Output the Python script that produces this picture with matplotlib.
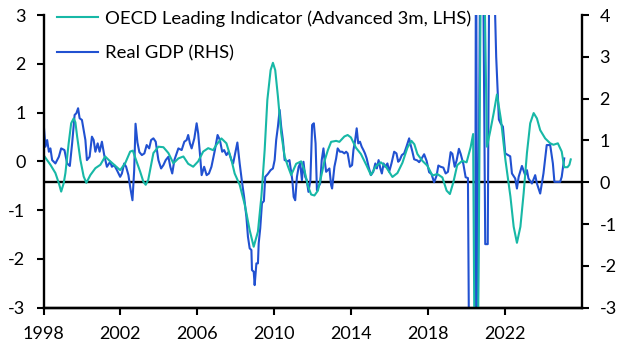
import matplotlib
matplotlib.use("Agg")
import matplotlib.pyplot as plt
from matplotlib.lines import Line2D

plt.rcParams['font.family'] = ['Lato', 'DejaVu Sans']
plt.rcParams['axes.unicode_minus'] = False

# ---- data (decimal years) ----
oecd_t = [1998.00, 1998.20, 1998.36, 1998.62, 1998.80, 1998.92, 1999.05, 1999.14, 1999.31, 1999.44,
          1999.57, 1999.66, 1999.75, 1999.92, 2000.09, 2000.23, 2000.44, 2000.70, 2000.96, 2001.21,
          2001.39, 2001.73, 2001.99, 2002.25, 2002.51, 2002.65, 2002.77, 2003.03, 2003.20, 2003.32,
          2003.45, 2003.55, 2003.72, 2003.98, 2004.24, 2004.50, 2004.76, 2005.02, 2005.28, 2005.53,
          2005.79, 2006.05, 2006.31, 2006.57, 2006.83, 2007.00, 2007.26, 2007.52, 2007.78, 2007.95,
          2008.21, 2008.47, 2008.73, 2008.94, 2009.16, 2009.34, 2009.51, 2009.65, 2009.82, 2009.94,
          2010.06, 2010.20, 2010.37, 2010.55, 2010.72, 2010.89, 2011.15, 2011.41, 2011.59, 2011.76,
          2011.93, 2012.10, 2012.28, 2012.45, 2012.62, 2012.80, 2012.97, 2013.23, 2013.40, 2013.66,
          2013.83, 2014.00, 2014.26, 2014.52, 2014.82, 2015.04, 2015.30, 2015.56, 2015.82, 2016.16,
          2016.42, 2016.68, 2016.94, 2017.15, 2017.30, 2017.46, 2017.72, 2017.98, 2018.24, 2018.50,
          2018.76, 2018.98, 2019.15, 2019.33, 2019.53, 2019.79, 2020.02, 2020.23, 2020.36, 2020.45,
          2020.60, 2020.78, 2020.92, 2021.08, 2021.26, 2021.43, 2021.60, 2021.81, 2022.04, 2022.30,
          2022.47, 2022.64, 2022.82, 2022.99, 2023.16, 2023.33, 2023.51, 2023.68, 2023.85, 2024.11,
          2024.37, 2024.54, 2024.77, 2024.97, 2025.10, 2025.27, 2025.37, 2025.44]
oecd_v = [0.13, 0.02, -0.07, -0.24, -0.45, -0.62, -0.45, -0.24, 0.37, 0.78,
          0.88, 0.80, 0.51, 0.03, -0.31, -0.44, -0.28, -0.14, -0.07, 0.10,
          0.03, -0.09, -0.18, -0.04, 0.20, 0.22, 0.08, -0.21, -0.42, -0.48,
          -0.38, -0.18, 0.17, 0.30, 0.29, 0.17, -0.04, 0.06, 0.10, -0.05,
          -0.11, 0.00, 0.20, 0.27, 0.23, 0.34, 0.47, 0.37, 0.03, -0.25,
          -0.48, -0.88, -1.41, -1.75, -1.44, -0.72, 0.23, 1.26, 1.87, 2.02,
          1.87, 1.33, 0.58, 0.10, -0.10, -0.28, -0.05, 0.00, -0.20, -0.50,
          -0.68, -0.70, -0.60, -0.31, 0.00, 0.23, 0.40, 0.42, 0.40, 0.51,
          0.54, 0.49, 0.28, 0.15, -0.09, -0.28, -0.10, -0.02, -0.11, -0.32,
          -0.24, -0.03, 0.28, 0.42, 0.35, 0.15, 0.01, -0.09, -0.29, -0.26,
          -0.33, -0.60, -0.67, -0.43, -0.08, 0.01, -0.02, 0.29, 0.56, -5.0,
          -4.5, 5.0, 4.5, 0.30, 0.64, 0.99, 1.37, 0.85, 0.03, -0.72,
          -1.34, -1.67, -1.34, -0.65, 0.17, 0.78, 0.99, 0.88, 0.64, 0.47,
          0.37, 0.34, 0.37, 0.20, -0.12, -0.12, -0.07, 0.04]

gdp_t = [1998.02, 1998.10, 1998.19, 1998.28, 1998.36, 1998.45, 1998.62, 1998.80, 1998.92, 1999.09,
         1999.23, 1999.37, 1999.49, 1999.62, 1999.71, 1999.80, 1999.88, 2000.00, 2000.09, 2000.18,
         2000.26, 2000.40, 2000.52, 2000.61, 2000.70, 2000.82, 2000.92, 2001.04, 2001.16, 2001.30,
         2001.47, 2001.56, 2001.68, 2001.82, 2001.99, 2002.08, 2002.20, 2002.30, 2002.42, 2002.51,
         2002.63, 2002.72, 2002.79, 2002.89, 2002.99, 2003.12, 2003.25, 2003.37, 2003.50, 2003.60,
         2003.72, 2003.84, 2003.98, 2004.12, 2004.24, 2004.36, 2004.50, 2004.60, 2004.70, 2004.81,
         2004.93, 2005.02, 2005.19, 2005.33, 2005.45, 2005.53, 2005.62, 2005.71, 2005.85, 2005.97,
         2006.05, 2006.14, 2006.23, 2006.36, 2006.49, 2006.61, 2006.74, 2006.92, 2007.06, 2007.18,
         2007.30, 2007.40, 2007.52, 2007.64, 2007.78, 2007.87, 2007.99, 2008.09, 2008.21, 2008.33,
         2008.44, 2008.56, 2008.64, 2008.73, 2008.82, 2008.85, 2008.94, 2008.99, 2009.08, 2009.16,
         2009.20, 2009.28, 2009.37, 2009.47, 2009.54, 2009.68, 2009.82, 2009.94, 2010.03, 2010.11,
         2010.20, 2010.29, 2010.37, 2010.46, 2010.55, 2010.72, 2010.80, 2010.95, 2011.02, 2011.10,
         2011.19, 2011.28, 2011.36, 2011.45, 2011.53, 2011.62, 2011.70, 2011.79, 2011.89, 2011.98,
         2012.07, 2012.16, 2012.23, 2012.31, 2012.40, 2012.48, 2012.57, 2012.62, 2012.71, 2012.88,
         2012.97, 2013.02, 2013.14, 2013.23, 2013.31, 2013.43, 2013.54, 2013.66, 2013.75, 2013.83,
         2013.95, 2014.06, 2014.13, 2014.21, 2014.30, 2014.38, 2014.47, 2014.56, 2014.65, 2014.73,
         2014.82, 2014.92, 2015.04, 2015.16, 2015.27, 2015.35, 2015.44, 2015.53, 2015.61, 2015.70,
         2015.78, 2015.90, 2015.99, 2016.11, 2016.25, 2016.37, 2016.46, 2016.54, 2016.65, 2016.77,
         2016.89, 2017.03, 2017.11, 2017.20, 2017.29, 2017.46, 2017.55, 2017.67, 2017.81, 2017.94,
         2018.07, 2018.19, 2018.33, 2018.46, 2018.55, 2018.67, 2018.81, 2018.93, 2019.05, 2019.19,
         2019.28, 2019.40, 2019.50, 2019.62, 2019.71, 2019.85, 2019.97, 2020.09, 2020.19, 2020.35,
         2020.46, 2020.51, 2020.58, 2020.75, 2020.87, 2020.99, 2021.12, 2021.22, 2021.45, 2021.56,
         2021.70, 2021.80, 2021.91, 2022.03, 2022.29, 2022.38, 2022.55, 2022.64, 2022.73, 2022.90,
         2023.07, 2023.16, 2023.24, 2023.42, 2023.59, 2023.68, 2023.85, 2024.02, 2024.19, 2024.37,
         2024.51, 2024.59, 2024.89, 2024.97, 2025.10]
gdp_v = [1.33, 0.85, 1.01, 0.73, 0.81, 0.53, 0.45, 0.61, 0.81, 0.77,
         0.45, 0.39, 0.93, 1.61, 1.65, 1.77, 1.53, 1.49, 1.25, 1.01,
         0.53, 0.61, 1.09, 1.01, 0.73, 0.93, 0.73, 0.97, 0.65, 0.37,
         0.49, 0.37, 0.41, 0.29, 0.13, 0.21, 0.45, 0.37, 0.17, -0.11,
         -0.43, 0.29, 1.40, 0.95, 0.72, 0.65, 0.69, 0.89, 0.81, 1.01,
         1.05, 0.97, 0.53, 0.33, 0.41, 0.53, 0.61, 0.37, 0.21, 0.53,
         0.69, 0.81, 0.77, 0.97, 1.01, 1.13, 0.93, 0.81, 1.05, 1.41,
         1.17, 0.69, 0.17, 0.37, 0.17, 0.21, 0.37, 0.77, 1.13, 1.01,
         0.73, 0.77, 0.65, 0.73, 0.53, 0.45, 0.73, 0.95, 0.45, 0.01,
         -0.35, -0.83, -1.30, -1.58, -1.62, -2.10, -2.14, -2.46, -1.94, -1.94,
         -1.46, -1.10, -0.50, -0.45, 0.13, 0.20, 0.29, 0.33, 0.53, 1.01,
         1.33, 1.73, 1.33, 1.01, 0.53, 0.50, 0.53, 0.05, -0.35, -0.43,
         0.13, 0.37, 0.45, 0.05, 0.49, 0.13, 0.05, -0.23, 0.05, 1.37,
         1.41, 0.93, -0.19, -0.11, -0.03, 0.53, 0.81, 0.57, 0.25, 0.33,
         -0.07, -0.15, 0.37, 0.57, 0.81, 0.73, 0.73, 0.69, 0.73, 0.69,
         0.37, 0.41, 0.77, 0.97, 1.29, 0.93, 0.97, 0.85, 0.77, 0.69,
         0.57, 0.37, 0.17, 0.25, 0.45, 0.33, 0.53, 0.33, 0.21, 0.45,
         0.37, 0.45, 0.25, 0.45, 0.73, 0.69, 0.49, 0.53, 0.65, 0.69,
         0.85, 1.05, 0.89, 0.73, 0.55, 0.52, 0.48, 0.56, 0.67, 0.51,
         0.24, 0.20, 0.00, 0.16, 0.40, 0.37, 0.35, 0.21, 0.25, 0.72,
         0.68, 0.37, 0.52, 0.80, 0.68, 0.44, 0.12, 0.10, -7.0, -9.0,
         -5.0, 7.0, -5.0, 7.0, 6.0, -1.48, -1.48, 7.0, 5.0, 3.0,
         1.50, 1.40, 1.33, 0.69, 0.62, 0.21, 0.09, -0.15, 0.13, 0.39,
         0.17, 0.29, 0.09, -0.03, 0.17, -0.03, -0.27, 0.21, 0.89, 0.89,
         0.45, 0.01, 0.01, 0.13, 0.57]

left_ticks = [-3, -2, -1, 0, 1, 2, 3]
right_ticks = [-3, -2, -1, 0, 1, 2, 3, 4]
year_ticks = [1998, 2002, 2006, 2010, 2014, 2018, 2022]

oecd_label = "OECD Leading Indicator (Advanced 3m, LHS)"
gdp_label = "Real GDP (RHS)"

teal = "#17B8A6"
blue = "#2151D1"

W, H = 627, 352
fig = plt.figure(figsize=(W / 100, H / 100), dpi=100)
left, right, top, bottom = 43.5, 581.5, 15, 307.7
ax = fig.add_axes([left / W, 1 - bottom / H, (right - left) / W, (bottom - top) / H])
ax2 = ax.twinx()
ax.set_zorder(ax2.get_zorder() + 1)
ax.patch.set_visible(False)

ax2.axhline(0, color="black", lw=1.7, zorder=1)
ax2.plot(gdp_t, gdp_v, color=blue, lw=1.5, zorder=2)
ax.plot(oecd_t, oecd_v, color=teal, lw=1.5, zorder=2)

ax.set_xlim(1998, 2026)
ax.set_ylim(-3, 3)
ax2.set_ylim(-3, 4)
ax.set_xticks(year_ticks)
ax.set_xticklabels([str(y) for y in year_ticks])
ax.set_yticks(left_ticks)
ax.set_yticklabels([str(v) for v in left_ticks])
ax2.set_yticks(right_ticks)
ax2.set_yticklabels([str(v) for v in right_ticks])

fs = 13
for a in (ax, ax2):
    a.spines["top"].set_visible(False)
    for s in ("left", "right", "bottom"):
        a.spines[s].set_linewidth(1.7)
ax.spines["right"].set_visible(False)
ax2.spines["left"].set_visible(False)

ax.tick_params(axis="y", direction="out", length=5, width=1.5, pad=8, labelsize=fs)
ax.tick_params(axis="x", direction="out", length=5, width=1.5, pad=8, labelsize=fs)
ax2.tick_params(axis="y", direction="out", length=5, width=1.5, pad=8, labelsize=fs)

handles = [Line2D([], [], color=teal, lw=1.5), Line2D([], [], color=blue, lw=1.5)]
ax.legend(handles, [oecd_label, gdp_label], loc="upper left",
          bbox_to_anchor=((57 - left) / (right - left), 1.016),
          frameon=False, fontsize=13.3, borderpad=0, borderaxespad=0,
          handlelength=2.2, handletextpad=0.4, labelspacing=1.0)

fig.savefig("out.png", dpi=100)
